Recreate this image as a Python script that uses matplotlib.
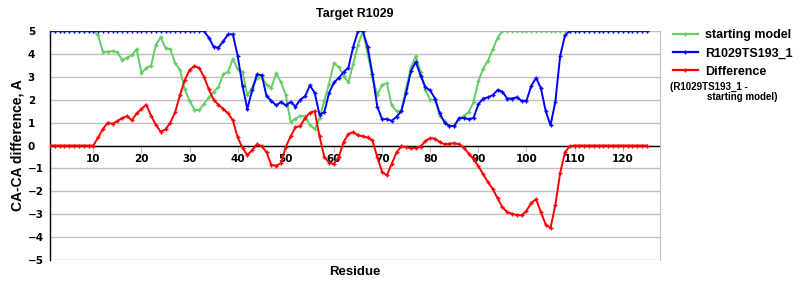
import numpy as np
import matplotlib
matplotlib.use("Agg")
import matplotlib.pyplot as plt
from matplotlib.lines import Line2D

residues = np.arange(1, 126)

starting_model = [
    5, 5, 5, 5, 5, 5, 5, 5, 5, 5,
    4.8, 4.09, 4.09, 4.12, 4.07, 3.73, 3.83, 3.95, 4.2, 3.16,
    3.39, 3.48, 4.39, 4.73, 4.25, 4.2, 3.6, 3.3, 2.45, 1.95,
    1.57, 1.54, 1.82, 2.1, 2.33, 2.55, 3.1, 3.22, 3.78, 3.32,
    3.22, 2.2, 2.52, 2.95, 3.0, 2.65, 2.52, 3.15, 2.75, 2.2,
    1.02, 1.17, 1.3, 1.27, 0.9, 0.72, 1.2, 1.95, 2.7, 3.6,
    3.42, 3.05, 2.75, 3.55, 4.4, 4.97, 4.0, 3.0, 2.2, 2.65,
    2.72, 1.75, 1.5, 1.5, 2.5, 3.4, 3.9, 3.2, 2.4, 2.0,
    1.97, 1.3, 1.05, 0.85, 0.85, 1.15, 1.3, 1.45, 1.9, 2.8,
    3.35, 3.7, 4.2, 4.7, 5, 5, 5, 5, 5, 5,
    5, 5, 5, 5, 5, 5, 5, 5, 5, 5,
    5, 5, 5, 5, 5, 5, 5, 5, 5, 5,
    5, 5, 5, 5, 5,
]

model_193 = [
    5, 5, 5, 5, 5, 5, 5, 5, 5, 5,
    5, 5, 5, 5, 5, 5, 5, 5, 5, 5,
    5, 5, 5, 5, 5, 5, 5, 5, 5, 5,
    5, 5, 5, 4.7, 4.31, 4.27, 4.55, 4.85, 4.85, 3.9,
    2.6, 1.6, 2.4, 3.1, 3.07, 2.15, 1.95, 1.75, 1.9, 1.75,
    1.9, 1.7, 2.0, 2.15, 2.62, 2.3, 1.35, 1.45, 2.3, 2.75,
    2.95, 3.2, 3.4, 4.3, 5, 5, 4.3, 3.1, 1.7, 1.15,
    1.15, 1.08, 1.25, 1.5, 2.3, 3.25, 3.65, 3.05, 2.55, 2.4,
    2.05, 1.4, 1.0, 0.85, 0.85, 1.2, 1.2, 1.15, 1.2, 1.8,
    2.05, 2.1, 2.2, 2.42, 2.35, 2.05, 2.05, 2.1, 1.95, 1.95,
    2.6, 2.95, 2.5, 1.5, 0.88, 1.9, 3.9, 4.8, 5, 5,
    5, 5, 5, 5, 5, 5, 5, 5, 5, 5,
    5, 5, 5, 5, 5,
]

difference = [
    0, 0, 0, 0, 0, 0, 0, 0, 0, 0,
    0.35, 0.72, 0.99, 0.95, 1.07, 1.2, 1.28, 1.1, 1.4, 1.6,
    1.78, 1.3, 0.9, 0.6, 0.7, 1.0, 1.45, 2.2, 2.85, 3.3,
    3.47, 3.38, 3.0, 2.45, 2.0, 1.78, 1.6, 1.4, 1.1, 0.35,
    -0.1, -0.42, -0.2, 0.05, -0.03, -0.3, -0.85, -0.88, -0.78, -0.05,
    0.4, 0.8, 0.85, 1.2, 1.43, 1.5, 0.4, -0.5, -0.75, -0.8,
    -0.5, 0.15, 0.5, 0.58, 0.45, 0.4, 0.35, 0.22, -0.5, -1.15,
    -1.3, -0.8, -0.3, -0.04, -0.07, -0.12, -0.1, -0.05, 0.2, 0.32,
    0.3, 0.15, 0.05, 0.08, 0.1, 0.05, -0.1, -0.35, -0.6, -0.9,
    -1.25, -1.6, -1.9, -2.3, -2.7, -2.9, -2.98, -3.03, -3.05, -2.85,
    -2.5, -2.35, -2.9, -3.45, -3.6, -2.6, -1.2, -0.3, -0.03, 0,
    0, 0, 0, 0, 0, 0, 0, 0, 0, 0,
    0, 0, 0, 0, 0,
]

x_ticks = [10, 20, 30, 40, 50, 60, 70, 80, 90, 100, 110, 120]
y_ticks = [-5, -4, -3, -2, -1, 0, 1, 2, 3, 4, 5]

green = '#66cc66'
blue = '#0000ff'
red = '#ff0000'
label_font = 'Liberation Sans'

fig = plt.figure(figsize=(8, 3), dpi=100)
ax = fig.add_axes([0.0625, 0.133, 0.7625, 0.764])

for vals, col in [(starting_model, green), (model_193, blue), (difference, red)]:
    ax.plot(residues, vals, color=col, lw=1.4, marker='+', ms=3, mew=1, zorder=3)

ax.set_xlim(1, 127.75)
ax.set_ylim(-5, 5)
ax.set_yticks(y_ticks)
ax.set_xticks(x_ticks)
ax.yaxis.grid(True, color='#c0c0c0', lw=1)
ax.set_axisbelow(True)

ax.spines['top'].set_visible(False)
ax.spines['right'].set_color('#c0c0c0')
ax.spines['bottom'].set_position(('data', 0))
ax.spines['bottom'].set_zorder(2)
ax.spines['left'].set_linewidth(1)
ax.spines['bottom'].set_linewidth(1)

ax.tick_params(axis='x', direction='out', length=4, color='#c0c0c0', pad=2)
ax.tick_params(axis='y', length=0, pad=16)
for lab in ax.get_xticklabels() + ax.get_yticklabels():
    lab.set_fontweight('bold')
    lab.set_fontsize(7.5)
    lab.set_fontfamily('DejaVu Sans')
for lab in ax.get_yticklabels():
    lab.set_horizontalalignment('left')

ax.set_title('Target R1029', fontsize=9, fontweight='bold', family=label_font, pad=10)
ax.set_ylabel('CA-CA difference, A', fontsize=10, fontweight='bold', family=label_font, labelpad=2)
ax.text(0.5, -0.025, 'Residue', transform=ax.transAxes, ha='center', va='top',
        fontsize=9.5, fontweight='bold', family=label_font)

handles = [Line2D([], [], color=c, lw=1.6, marker='+', ms=3, mew=1) for c in (green, blue, red)]
fig.legend(handles, ['starting model', 'R1029TS193_1', 'Difference'],
           loc='upper left', bbox_to_anchor=(0.827, 0.94), frameon=False,
           prop={'family': label_font, 'weight': 'bold', 'size': 9},
           handlelength=2.0, handletextpad=0.6, labelspacing=0.5)
fig.text(0.838, 0.71, '(R1029TS193_1 -', fontsize=7, fontweight='bold', family=label_font, va='center')
fig.text(0.972, 0.675, 'starting model)', fontsize=7, fontweight='bold', family=label_font,
         va='center', ha='right')

fig.savefig('out.png', dpi=100)
